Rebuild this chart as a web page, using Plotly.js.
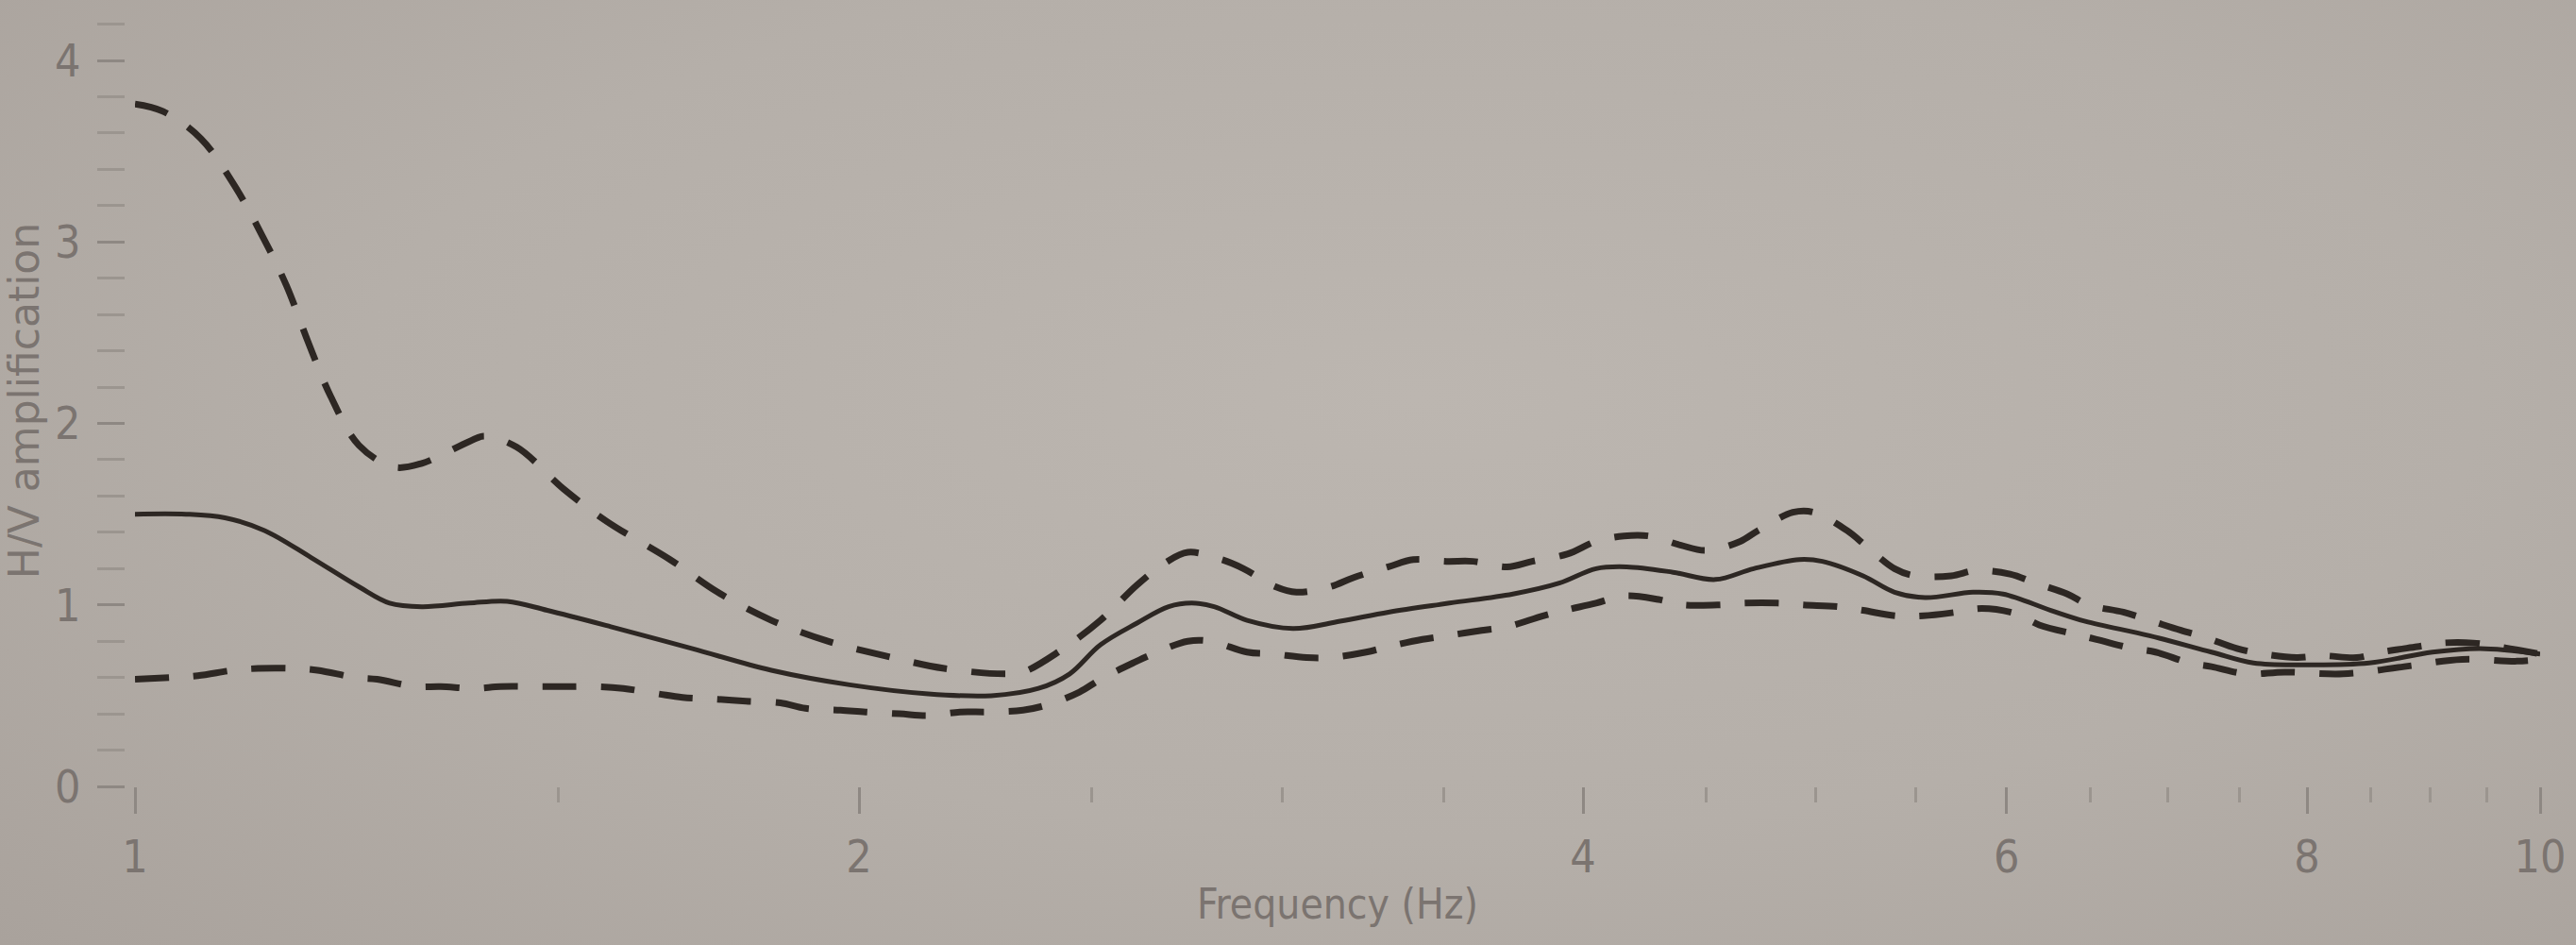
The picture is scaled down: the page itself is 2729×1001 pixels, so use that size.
<!DOCTYPE html>
<html>
<head>
<meta charset="utf-8">
<script src="https://cdn.plot.ly/plotly-3.0.1.min.js"></script>
<style>
  html, body { margin: 0; padding: 0; }
  body {
    width: 2729px; height: 1001px; overflow: hidden;
    background: radial-gradient(ellipse 75% 85% at 55% 42%, #bcb6b0 0%, #b5afa9 55%, #a9a29c 100%);
  }
  #chart { width: 2729px; height: 1001px; }
</style>
</head>
<body>
<div id="chart"></div>
<script>
// Frequency (Hz) and H/V amplification
const freqUpper = [1.00, 1.027, 1.065, 1.10, 1.13, 1.156, 1.181, 1.206, 1.239, 1.281,
  1.316, 1.377, 1.397, 1.441, 1.507, 1.571, 1.669, 1.747, 1.839, 1.941,
  2.05, 2.17, 2.30, 2.34, 2.42, 2.52, 2.61, 2.68, 2.74, 2.83,
  2.89, 2.98, 3.04, 3.14, 3.21, 3.32, 3.40, 3.51, 3.60, 3.72,
  3.81, 3.94, 4.05, 4.16, 4.26, 4.39, 4.50, 4.65, 4.73, 4.89,
  4.99, 5.15, 5.25, 5.39, 5.50, 5.69, 5.83, 6.02, 6.17, 6.36,
  6.49, 6.71, 6.88, 7.09, 7.26, 7.48, 7.67, 7.92, 8.12, 8.39,
  8.59, 8.89, 9.10, 9.38, 9.61, 10.0];
const upper = [3.76, 3.72, 3.57, 3.31, 3.03, 2.76, 2.44, 2.15, 1.88, 1.76,
  1.78, 1.90, 1.93, 1.87, 1.64, 1.46, 1.25, 1.07, 0.915, 0.80,
  0.72, 0.65, 0.62, 0.63, 0.74, 0.915, 1.11, 1.23, 1.29, 1.25,
  1.20, 1.10, 1.07, 1.10, 1.15, 1.21, 1.25, 1.24, 1.24, 1.21,
  1.24, 1.28, 1.35, 1.38, 1.38, 1.33, 1.30, 1.35, 1.41, 1.51,
  1.51, 1.41, 1.32, 1.20, 1.16, 1.16, 1.19, 1.17, 1.12, 1.06,
  1.00, 0.96, 0.915, 0.86, 0.82, 0.76, 0.73, 0.71, 0.72, 0.71,
  0.74, 0.77, 0.79, 0.79, 0.77, 0.73];

const freqMean = [1.00, 1.05, 1.09, 1.132, 1.184, 1.239, 1.276, 1.316, 1.377, 1.428,
  1.484, 1.577, 1.704, 1.839, 1.982, 2.137, 2.27, 2.375, 2.447, 2.52,
  2.61, 2.69, 2.75, 2.81, 2.90, 3.03, 3.17, 3.32, 3.52, 3.74,
  3.91, 4.05, 4.17, 4.36, 4.54, 4.71, 4.92, 5.03, 5.23, 5.39,
  5.55, 5.81, 5.98, 6.26, 6.47, 6.88, 7.30, 7.60, 7.99, 8.49,
  9.02, 9.44, 10.0];
const mean = [1.50, 1.50, 1.48, 1.41, 1.26, 1.10, 1.01, 0.99, 1.01, 1.02,
  0.97, 0.88, 0.76, 0.64, 0.56, 0.51, 0.50, 0.54, 0.62, 0.78,
  0.90, 0.99, 1.01, 0.99, 0.915, 0.87, 0.91, 0.96, 1.01, 1.06,
  1.12, 1.20, 1.21, 1.18, 1.14, 1.20, 1.25, 1.24, 1.16, 1.07,
  1.04, 1.07, 1.06, 0.97, 0.91, 0.83, 0.74, 0.68, 0.67, 0.68,
  0.74, 0.76, 0.73];

const freqLower = [1.00, 1.034, 1.062, 1.099, 1.125, 1.163, 1.191, 1.235, 1.261, 1.308,
  1.340, 1.384, 1.419, 1.467, 1.507, 1.557, 1.596, 1.65, 1.689, 1.747,
  1.795, 1.855, 1.900, 1.965, 2.013, 2.079, 2.137, 2.203, 2.264, 2.34,
  2.396, 2.47, 2.52, 2.60, 2.65, 2.74, 2.80, 2.90, 2.97, 3.07,
  3.14, 3.25, 3.32, 3.43, 3.51, 3.63, 3.72, 3.85, 3.93, 4.05,
  4.16, 4.30, 4.40, 4.55, 4.67, 4.82, 4.94, 5.11, 5.23, 5.40,
  5.54, 5.72, 5.86, 6.06, 6.19, 6.40, 6.54, 6.77, 6.92, 7.15,
  7.30, 7.55, 7.83, 8.28, 8.78, 9.28, 9.78, 10.0];
const lower = [0.59, 0.60, 0.61, 0.64, 0.65, 0.65, 0.64, 0.60, 0.59, 0.55,
  0.55, 0.54, 0.55, 0.55, 0.55, 0.55, 0.54, 0.51, 0.49, 0.48,
  0.47, 0.46, 0.43, 0.42, 0.41, 0.40, 0.39, 0.41, 0.41, 0.42,
  0.45, 0.52, 0.59, 0.68, 0.73, 0.80, 0.80, 0.74, 0.73, 0.71,
  0.71, 0.74, 0.77, 0.81, 0.83, 0.86, 0.88, 0.94, 0.97, 1.01,
  1.05, 1.03, 1.00, 1.00, 1.01, 1.01, 1.00, 0.99, 0.97, 0.94,
  0.94, 0.96, 0.98, 0.95, 0.89, 0.84, 0.81, 0.76, 0.74, 0.68,
  0.66, 0.62, 0.63, 0.62, 0.66, 0.70, 0.69, 0.70];

const xTickVals = [1, 2, 4, 6, 8, 10];
const xTickText = ['1', '2', '4', '6', '8', '10'];
const xMinorVals = [1.5, 2.5, 3, 3.5, 4.5, 5, 5.5, 6.5, 7, 7.5, 8.5, 9, 9.5];
const yTickVals = [0, 1, 2, 3, 4];
const yTickText = ['0', '1', '2', '3', '4'];

const lineColor = '#2d2723';
const textColor = '#7b7470';
const tickColor = '#8e8883';
const tickFont = 'DejaVu Sans Condensed, DejaVu Sans, sans-serif';

const dashed = { color: lineColor, width: 7, dash: '36px,26px', shape: 'spline', smoothing: 1 };

const traces = [
  { x: freqUpper, y: upper, type: 'scatter', mode: 'lines', name: 'upper', line: dashed },
  { x: freqLower, y: lower, type: 'scatter', mode: 'lines', name: 'lower', line: dashed },
  { x: freqMean, y: mean, type: 'scatter', mode: 'lines', name: 'mean',
    line: { color: lineColor, width: 5, shape: 'spline', smoothing: 1 } }
];

const plotL = 132, plotR = 38;
const plotW = 2729 - plotL - plotR;

const layout = {
  width: 2729, height: 1001,
  margin: { l: plotL, r: plotR, t: 16, b: 168 },
  paper_bgcolor: 'rgba(0,0,0,0)',
  plot_bgcolor: 'rgba(0,0,0,0)',
  showlegend: false,
  xaxis: {
    type: 'log', range: [0, 1],
    domain: [11 / plotW, 1],
    tickmode: 'array', tickvals: xTickVals, ticktext: xTickText,
    ticks: 'outside', ticklen: 28, tickwidth: 3, tickcolor: tickColor,
    ticklabelstandoff: 4,
    tickfont: { family: tickFont, size: 48, color: textColor },
    showgrid: false, zeroline: false, showline: false,
    minor: { tickmode: 'array', tickvals: xMinorVals, ticks: 'outside', ticklen: 16,
             tickwidth: 3, tickcolor: '#9b958f', showgrid: false },
    title: { text: 'Frequency (Hz)', standoff: 8,
             font: { family: tickFont, size: 44, color: textColor } }
  },
  yaxis: {
    range: [0, 4.25],
    anchor: 'free', position: 0,
    tickmode: 'array', tickvals: yTickVals, ticktext: yTickText,
    ticks: 'outside', ticklen: 29, tickwidth: 3, tickcolor: tickColor,
    ticklabelstandoff: 8,
    tickfont: { family: tickFont, size: 48, color: textColor },
    showgrid: false, zeroline: false, showline: false,
    minor: { tick0: 0, dtick: 0.2, ticks: 'outside', ticklen: 29, tickwidth: 3,
             tickcolor: '#9b958f', showgrid: false },
    title: { text: 'H/V amplification', standoff: 6,
             font: { family: 'DejaVu Sans, sans-serif', size: 44, color: textColor } }
  }
};

Plotly.newPlot('chart', traces, layout, { staticPlot: true, displayModeBar: false });
</script>
</body>
</html>
